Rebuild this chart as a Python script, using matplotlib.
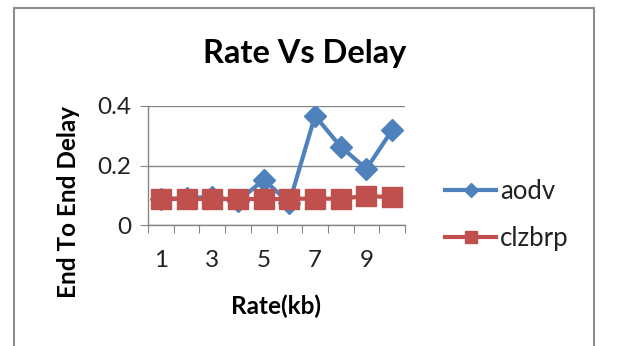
import matplotlib
matplotlib.use('Agg')
import matplotlib.pyplot as plt
from matplotlib.patches import Rectangle

# Rate values on the x axis and delay per protocol
rates = ['1', '2', '3', '4', '5', '6', '7', '8', '9', '10']
aodv = [0.087, 0.09, 0.095, 0.08, 0.152, 0.075, 0.367, 0.263, 0.189, 0.319]
clzbrp = [0.086, 0.089, 0.086, 0.089, 0.086, 0.088, 0.089, 0.088, 0.098, 0.093]
yticks = [0, 0.2, 0.4]
ytick_labels = ['0', '0.2', '0.4']

plt.rcParams['font.family'] = ['Lato', 'DejaVu Sans']

fig = plt.figure(figsize=(6.2, 3.46), dpi=100)
fig.patch.set_facecolor('white')

# chart frame (open at the bottom)
fig.patches.append(Rectangle((14 / 620, -0.1), (594 - 14) / 620, 1.1 - 8 / 346,
                             transform=fig.transFigure, fill=False,
                             edgecolor='#8c8c8c', linewidth=1.5))

ax = fig.add_axes([148 / 620, 1 - 225 / 346, (405 - 148) / 620, (225 - 106) / 346])

x = list(range(len(rates)))
ax.plot(x, aodv, color='#4F81BD', linewidth=3, marker='D', markersize=11.5,
        label='aodv', zorder=3)
ax.plot(x, clzbrp, color='#C0504D', linewidth=3, marker='s', markersize=14.5,
        label='clzbrp', zorder=4)

ax.set_xlim(-0.5, len(rates) - 0.5)
ax.set_ylim(0, 0.4)

grey = '#868686'
ax.set_yticks(yticks)
ax.set_yticklabels(ytick_labels)
ax.yaxis.grid(True, color=grey, linewidth=1)
ax.set_axisbelow(True)

# tick marks between categories, labels on every other category
ax.set_xticks([i - 0.5 for i in range(len(rates) + 1)])
ax.set_xticklabels([])
ax.set_xticks(x[::2], minor=True)
ax.set_xticklabels(rates[::2], minor=True)
ax.tick_params(axis='x', which='major', length=6, color=grey, direction='out')
ax.tick_params(axis='x', which='minor', length=0, pad=18, labelsize=17.5,
               labelcolor='#222222')
ax.tick_params(axis='y', length=6, color=grey, labelsize=17.5, pad=6,
               labelcolor='#222222')

for side in ['top', 'right']:
    ax.spines[side].set_visible(False)
for side in ['left', 'bottom']:
    ax.spines[side].set_color(grey)
    ax.spines[side].set_linewidth(1)

fig.text(305 / 620, 1 - 53 / 346, 'Rate Vs Delay', ha='center', va='center',
         fontsize=23.5, fontweight='bold')
fig.text(276 / 620, 1 - 306 / 346, 'Rate(kb)', ha='center', va='center',
         fontsize=17.5, fontweight='bold')
fig.text(68 / 620, 1 - 202 / 346, 'End To End Delay', ha='center', va='center',
         rotation=90, fontsize=17.5, fontweight='bold')

fig.legend(loc='center left', bbox_to_anchor=(445 / 620, 1 - 215 / 346),
           frameon=False, fontsize=18.5, handlelength=2.0, handletextpad=0.15,
           labelspacing=0.85, markerscale=0.6, borderaxespad=0, borderpad=0,
           labelcolor='#222222')

fig.savefig('out.png', dpi=100)
